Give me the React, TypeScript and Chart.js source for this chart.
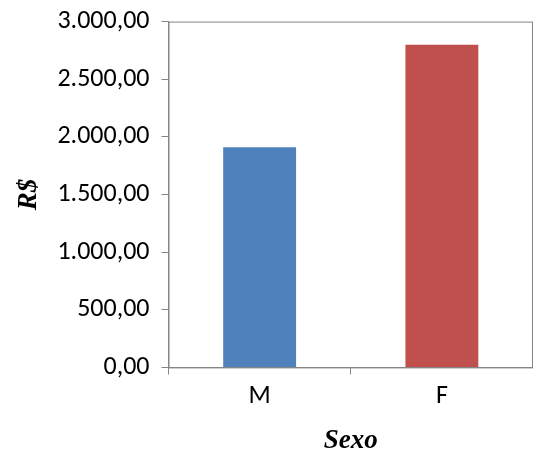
import React, { useRef, useEffect } from 'react';
import Chart from 'chart.js/auto';

const categories = ['M', 'F'];
const values = [1910, 2800];
const barColors = ['#4F81BD', '#C0504D'];

const fmt = (v: number) =>
  v.toLocaleString('pt-BR', { minimumFractionDigits: 2, maximumFractionDigits: 2 });

const frame = {
  id: 'frame',
  afterDraw(chart: any) {
    const { ctx, chartArea: a } = chart;
    ctx.save();
    ctx.strokeStyle = '#868686';
    ctx.lineWidth = 1;
    ctx.strokeRect(a.left + 0.5, a.top + 0.5, a.right - a.left - 1, a.bottom - a.top);
    ctx.restore();
  },
};

const App: React.FC = () => {
  const chartRef = useRef<HTMLCanvasElement | null>(null);

  useEffect(() => {
    if (!chartRef.current) return;
    const chart = new Chart(chartRef.current, {
      type: 'bar',
      data: {
        labels: categories,
        datasets: [{ data: values, backgroundColor: barColors, barPercentage: 0.8, categoryPercentage: 0.5 }],
      },
      options: {
        animation: false,
        responsive: false,
        layout: { padding: { top: 0, right: 0, left: 13, bottom: 0 } },
        plugins: { legend: { display: false }, tooltip: { enabled: false } },
        scales: {
          x: {
            offset: true,
            grid: { offset: true, drawOnChartArea: false, tickLength: 7, color: '#868686' },
            border: { color: '#868686' },
            ticks: { color: '#000', font: { family: 'Carlito, Liberation Sans', size: 26 }, padding: 6 },
            title: {
              display: true,
              text: 'Sexo',
              color: '#000',
              font: { family: 'Liberation Serif', size: 27, weight: 'bold', style: 'italic' },
              padding: { top: 7, bottom: 0 },
            },
          },
          y: {
            min: 0,
            max: 3000,
            grid: { drawOnChartArea: false, tickLength: 7, color: '#868686' },
            border: { color: '#868686' },
            ticks: {
              stepSize: 500,
              color: '#000',
              font: { family: 'Carlito, Liberation Sans', size: 26 },
              padding: 12,
              callback: (v: any) => fmt(Number(v)),
            },
            title: {
              display: true,
              text: 'R$',
              color: '#000',
              font: { family: 'Liberation Serif', size: 27, weight: 'bold', style: 'italic' },
              padding: { top: 0, bottom: 0 },
            },
          },
        },
      },
      plugins: [frame],
    });
    return () => chart.destroy();
  }, []);

  return (
    <div style={{ position: 'absolute', left: 0, top: -6, width: 533, height: 463, background: '#fff' }}>
      <canvas ref={chartRef} width={533} height={463}></canvas>
    </div>
  );
};

export default App;
